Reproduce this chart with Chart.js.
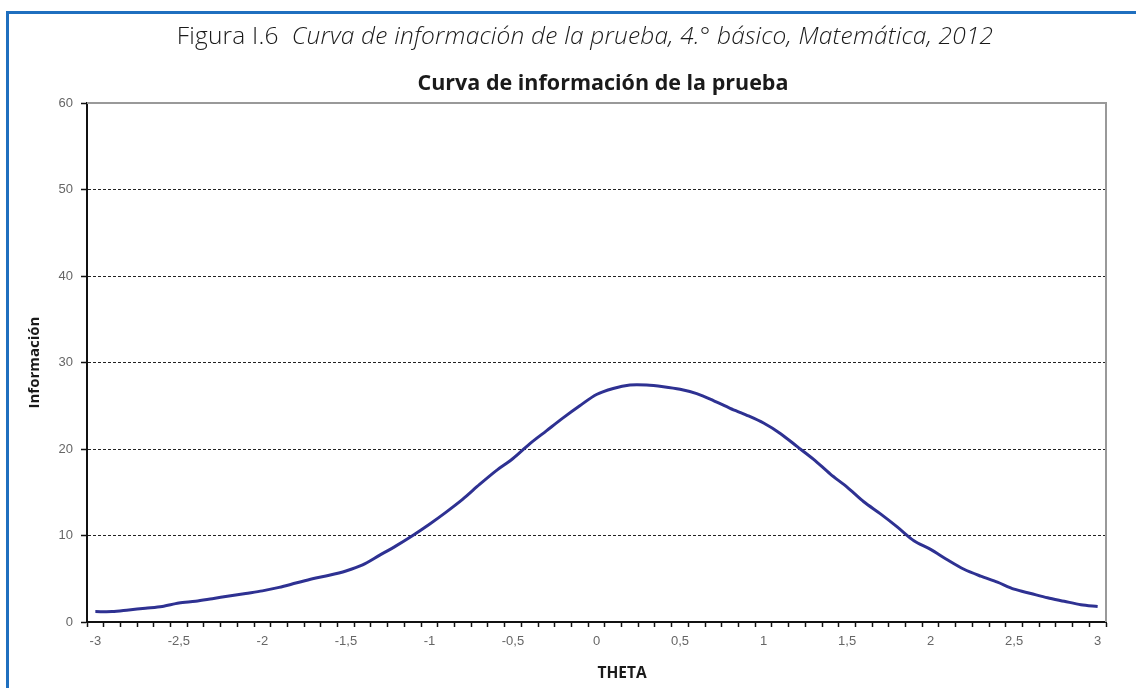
<!DOCTYPE html>
<html lang="es">
<head>
<meta charset="utf-8">
<title>Curva de información de la prueba</title>
<script src="https://cdn.jsdelivr.net/npm/chart.js@4.4.1/dist/chart.umd.min.js"></script>
<style>
    body {
        margin: 0;
        background: #fff;
        font-family: "Open Sans", sans-serif;
    }
    .frame {
        position: relative;
        width: 1136px;
        height: 688px;
        overflow: hidden;
    }
    .frame::before {
        content: '';
        position: absolute;
        left: 6px;
        top: 11px;
        right: -10px;
        bottom: -10px;
        border-left: 3px solid #1f6fbf;
        border-top: 3px solid #1f6fbf;
    }
    .figura {
        position: absolute;
        top: 18px;
        left: 0;
        width: 1170px;
        text-align: center;
        font-size: 24.5px;
        font-weight: 300;
        letter-spacing: 0.2px;
        color: #1a1a1a;
    }
    .figura em { font-style: italic; }
    .subtitulo {
        position: absolute;
        top: 67px;
        left: 0;
        width: 1206px;
        text-align: center;
        font-size: 21.5px;
        font-weight: 700;
        color: #1a1a1a;
    }
    .theta {
        position: absolute;
        top: 661px;
        left: 622px;
        transform: translateX(-50%);
        font-size: 15.5px;
        font-weight: 700;
        color: #1a1a1a;
    }
    canvas { position: absolute; left: 0; top: 0; }
</style>
</head>
<body>
<div class="frame">
    <canvas id="infoChart" width="1136" height="688"></canvas>
    <div class="figura">Figura I.6&nbsp;&nbsp;<em>Curva de información de la prueba, 4.° básico, Matemática, 2012</em></div>
    <div class="subtitulo">Curva de información de la prueba</div>
    <div class="theta">THETA</div>
</div>

<script>
// Theta categories (-3 to 3, step 0,1)
const thetaValues = [
    '-3', '-2,9', '-2,8', '-2,7', '-2,6', '-2,5', '-2,4', '-2,3', '-2,2', '-2,1',
    '-2', '-1,9', '-1,8', '-1,7', '-1,6', '-1,5', '-1,4', '-1,3', '-1,2', '-1,1',
    '-1', '-0,9', '-0,8', '-0,7', '-0,6', '-0,5', '-0,4', '-0,3', '-0,2', '-0,1',
    '0', '0,1', '0,2', '0,3', '0,4', '0,5', '0,6', '0,7', '0,8', '0,9',
    '1', '1,1', '1,2', '1,3', '1,4', '1,5', '1,6', '1,7', '1,8', '1,9',
    '2', '2,1', '2,2', '2,3', '2,4', '2,5', '2,6', '2,7', '2,8', '2,9',
    '3'
];

// Test information at each theta
const informacion = [
    1.2, 1.2, 1.4, 1.6, 1.8, 2.2, 2.4, 2.7, 3.0, 3.3,
    3.6, 4.0, 4.5, 5.0, 5.4, 5.9, 6.6, 7.7, 8.8, 10.0,
    11.3, 12.7, 14.2, 15.9, 17.5, 18.9, 20.6, 22.1, 23.6, 25.0,
    26.3, 27.0, 27.4, 27.4, 27.2, 26.9, 26.4, 25.6, 24.7, 23.9,
    23.0, 21.8, 20.3, 18.8, 17.1, 15.6, 13.9, 12.5, 11.0, 9.4,
    8.4, 7.2, 6.1, 5.3, 4.6, 3.8, 3.3, 2.8, 2.4, 2.0,
    1.8
];

// Tick labels shown on the axes
const xTickLabels = ['-3', '-2,5', '-2', '-1,5', '-1', '-0,5', '0', '0,5', '1', '1,5', '2', '2,5', '3'];
const yTickValues = [0, 10, 20, 30, 40, 50, 60];

// Gray frame on top and right of the plot area
const plotFrame = {
    id: 'plotFrame',
    afterDatasetsDraw(chart) {
        const { ctx, chartArea } = chart;
        ctx.save();
        ctx.strokeStyle = '#999';
        ctx.lineWidth = 2;
        ctx.beginPath();
        ctx.moveTo(chartArea.left, chartArea.top);
        ctx.lineTo(chartArea.right, chartArea.top);
        ctx.lineTo(chartArea.right, chartArea.bottom);
        ctx.stroke();
        ctx.restore();
    }
};

const ctx = document.getElementById('infoChart').getContext('2d');

new Chart(ctx, {
    type: 'line',
    data: {
        labels: thetaValues,
        datasets: [{
            label: 'Información',
            data: informacion,
            borderColor: '#2e3192',
            borderWidth: 3,
            pointRadius: 0,
            tension: 0.3,
            fill: false
        }]
    },
    options: {
        responsive: false,
        animation: false,
        layout: {
            padding: { top: 103, right: 30, left: 0, bottom: 0 }
        },
        plugins: {
            legend: { display: false },
            tooltip: { enabled: false }
        },
        scales: {
            x: {
                type: 'category',
                offset: true,
                afterFit: (scale) => { scale.height = 66; },
                grid: {
                    offset: true,
                    drawOnChartArea: false,
                    drawTicks: true,
                    tickLength: 5,
                    tickColor: '#111',
                    tickWidth: 1.5
                },
                border: { color: '#111', width: 2 },
                ticks: {
                    autoSkip: false,
                    maxRotation: 0,
                    padding: 7,
                    color: '#666',
                    font: { family: 'Liberation Sans, Arial, sans-serif', size: 13 },
                    callback: function(value, index) {
                        const lbl = thetaValues[index];
                        return xTickLabels.includes(lbl) ? lbl : '';
                    }
                }
            },
            y: {
                min: 0,
                max: 60,
                afterFit: (scale) => { scale.width = 87; },
                afterBuildTicks: (scale) => {
                    scale.ticks = yTickValues.map(v => ({ value: v }));
                },
                grid: {
                    color: (c) => (c.tick && (c.tick.value === 0 || c.tick.value === 60)) ? 'rgba(0,0,0,0)' : '#222',
                    lineWidth: 1,
                    drawTicks: true,
                    tickLength: 6,
                    tickColor: '#111',
                    tickWidth: 1.5,
                    tickBorderDash: []
                },
                border: { color: '#111', width: 2, dash: [3, 2] },
                ticks: {
                    padding: 8,
                    color: '#666',
                    font: { family: 'Liberation Sans, Arial, sans-serif', size: 13 }
                },
                title: {
                    display: true,
                    text: 'Información',
                    color: '#1a1a1a',
                    padding: { top: 26, bottom: 0 },
                    font: { family: 'Open Sans, sans-serif', size: 15, weight: 'bold' }
                }
            }
        }
    },
    plugins: [plotFrame]
});
</script>
</body>
</html>
